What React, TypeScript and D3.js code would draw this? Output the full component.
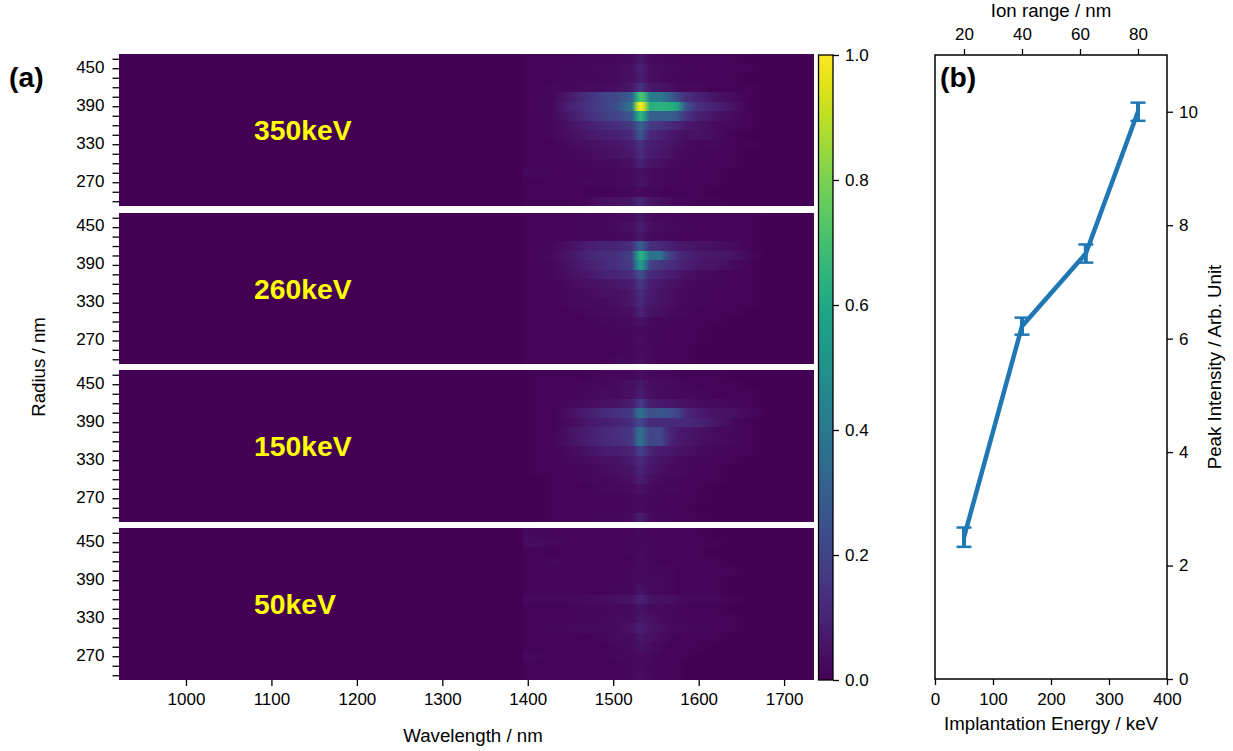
import React, { useRef, useEffect } from "react"
import * as d3 from "d3"

const FONT = "'Liberation Sans', Arial, sans-serif"

// wavelength of each spectrum column (nm), radius of each row (nm)
const wavelengths = [1395, 1410, 1430, 1450, 1470, 1490, 1505, 1522, 1528, 1532, 1536, 1543, 1555, 1565, 1575, 1585, 1600, 1620, 1640, 1660, 1680, 1700]
const radii = [465, 450, 435, 420, 405, 390, 375, 360, 345, 330, 315, 300, 285, 270, 255, 240]

// intensities in percent of the maximum, one line per radius
const map350 = [
  [1, 1, 1, 1, 2, 2, 2, 3, 5, 7, 5, 3, 2, 2, 2, 1, 1, 1, 1, 0, 0, 0],
  [1, 1, 1, 2, 2, 3, 3, 4, 7, 9, 7, 4, 3, 3, 2, 2, 1, 1, 1, 1, 0, 0],
  [1, 1, 1, 2, 2, 2, 3, 4, 6, 8, 6, 4, 3, 2, 2, 1, 1, 1, 1, 0, 0, 0],
  [1, 1, 2, 2, 3, 3, 4, 6, 11, 15, 11, 6, 5, 4, 3, 2, 2, 1, 1, 1, 0, 0],
  [1, 1, 2, 7, 14, 20, 22, 30, 62, 72, 68, 42, 40, 32, 22, 14, 9, 5, 3, 1, 0, 0],
  [1, 1, 3, 9, 15, 20, 24, 40, 88, 100, 92, 62, 64, 64, 58, 26, 13, 9, 5, 1, 0, 0],
  [1, 1, 2, 7, 13, 18, 20, 28, 55, 66, 58, 30, 30, 30, 26, 15, 9, 5, 3, 1, 0, 0],
  [1, 1, 2, 5, 8, 11, 13, 17, 26, 32, 26, 17, 15, 13, 10, 7, 5, 3, 2, 1, 0, 0],
  [1, 1, 2, 4, 6, 8, 9, 12, 21, 27, 21, 11, 9, 7, 5, 4, 5, 3, 1, 0, 0, 0],
  [1, 1, 1, 3, 4, 5, 6, 8, 12, 15, 12, 8, 7, 6, 4, 3, 2, 2, 1, 1, 0, 0],
  [1, 1, 1, 2, 3, 4, 5, 6, 10, 13, 10, 7, 6, 5, 3, 2, 2, 1, 1, 0, 0, 0],
  [1, 1, 1, 1, 2, 3, 3, 4, 7, 9, 7, 5, 4, 3, 2, 2, 1, 1, 1, 0, 0, 0],
  [2, 2, 1, 1, 1, 2, 2, 3, 4, 4, 4, 3, 2, 2, 2, 1, 1, 1, 0, 0, 0, 0],
  [1, 1, 1, 1, 2, 2, 2, 3, 4, 5, 4, 3, 2, 2, 1, 1, 1, 1, 0, 0, 0, 0],
  [1, 1, 1, 1, 1, 1, 1, 2, 2, 3, 2, 2, 1, 1, 1, 1, 1, 0, 0, 0, 0, 0],
  [1, 1, 1, 1, 2, 4, 5, 6, 9, 11, 9, 6, 4, 3, 2, 2, 1, 1, 0, 0, 0, 0],
]
const map260 = [
  [1, 1, 1, 1, 2, 2, 2, 3, 4, 6, 4, 3, 2, 2, 2, 1, 1, 1, 1, 1, 0, 0],
  [1, 1, 1, 1, 2, 2, 3, 4, 6, 8, 6, 4, 3, 3, 2, 2, 1, 1, 1, 1, 0, 0],
  [1, 1, 1, 1, 2, 2, 2, 3, 4, 6, 4, 3, 2, 2, 2, 1, 1, 1, 1, 1, 0, 0],
  [1, 1, 2, 4, 8, 10, 10, 13, 24, 30, 24, 13, 11, 9, 7, 6, 5, 4, 3, 1, 0, 0],
  [1, 1, 3, 6, 10, 13, 14, 20, 50, 64, 60, 36, 38, 20, 13, 10, 7, 6, 5, 2, 0, 0],
  [1, 1, 2, 5, 8, 12, 14, 18, 46, 56, 46, 20, 16, 14, 11, 8, 6, 5, 3, 1, 0, 0],
  [1, 1, 2, 4, 6, 9, 10, 13, 20, 24, 20, 12, 10, 8, 6, 4, 3, 2, 1, 1, 0, 0],
  [1, 1, 1, 3, 4, 5, 6, 8, 13, 16, 13, 8, 6, 5, 4, 3, 2, 2, 1, 1, 0, 0],
  [1, 1, 1, 2, 3, 4, 4, 6, 10, 13, 10, 7, 5, 4, 3, 2, 2, 1, 1, 1, 0, 0],
  [1, 1, 1, 2, 3, 3, 4, 6, 9, 12, 9, 6, 5, 4, 3, 2, 2, 1, 1, 1, 0, 0],
  [1, 1, 1, 1, 2, 3, 3, 4, 7, 10, 7, 5, 4, 3, 2, 2, 1, 1, 1, 0, 0, 0],
  [1, 1, 1, 1, 1, 2, 2, 3, 4, 5, 4, 3, 2, 2, 1, 1, 1, 1, 0, 0, 0, 0],
  [1, 1, 1, 1, 1, 1, 2, 2, 3, 3, 3, 2, 2, 1, 1, 1, 1, 0, 0, 0, 0, 0],
  [1, 1, 1, 1, 1, 1, 1, 2, 3, 4, 3, 2, 2, 1, 1, 1, 1, 0, 0, 0, 0, 0],
  [1, 1, 1, 1, 1, 1, 1, 2, 3, 3, 3, 2, 1, 1, 1, 1, 0, 0, 0, 0, 0, 0],
  [1, 1, 1, 1, 1, 1, 2, 2, 3, 4, 3, 2, 1, 1, 1, 1, 0, 0, 0, 0, 0, 0],
]
const map150 = [
  [0, 1, 1, 1, 1, 2, 2, 2, 3, 4, 3, 3, 2, 2, 1, 1, 1, 1, 0, 0, 0, 0],
  [0, 1, 1, 1, 2, 2, 3, 4, 5, 7, 5, 4, 3, 3, 2, 2, 1, 1, 1, 0, 0, 0],
  [0, 1, 1, 1, 2, 3, 3, 4, 6, 8, 6, 4, 3, 3, 2, 2, 2, 1, 1, 1, 0, 0],
  [0, 1, 1, 2, 3, 4, 5, 8, 14, 18, 14, 8, 6, 6, 5, 4, 3, 3, 2, 1, 0, 0],
  [0, 1, 1, 4, 8, 12, 14, 17, 32, 38, 32, 24, 26, 24, 20, 11, 7, 5, 4, 2, 0, 0],
  [0, 1, 1, 3, 6, 8, 10, 13, 19, 22, 17, 12, 12, 12, 11, 11, 10, 6, 2, 1, 0, 0],
  [0, 1, 1, 5, 8, 11, 13, 16, 32, 38, 30, 20, 22, 11, 7, 6, 4, 3, 2, 1, 0, 0],
  [0, 1, 1, 5, 8, 11, 13, 16, 32, 38, 30, 20, 22, 11, 7, 6, 4, 3, 2, 1, 0, 0],
  [0, 1, 1, 3, 5, 7, 8, 10, 15, 18, 15, 10, 7, 6, 5, 4, 3, 2, 1, 1, 0, 0],
  [0, 1, 1, 2, 3, 4, 5, 7, 10, 12, 10, 7, 5, 4, 3, 2, 2, 1, 1, 0, 0, 0],
  [0, 1, 1, 1, 2, 3, 4, 5, 8, 10, 8, 6, 4, 3, 3, 2, 1, 1, 0, 0, 0, 0],
  [0, 0, 1, 1, 2, 2, 3, 4, 6, 8, 6, 4, 3, 2, 2, 1, 1, 1, 0, 0, 0, 0],
  [0, 0, 1, 1, 1, 2, 2, 3, 4, 5, 4, 3, 2, 2, 2, 1, 1, 0, 0, 0, 0, 0],
  [0, 0, 1, 1, 1, 1, 1, 2, 3, 3, 3, 2, 2, 1, 1, 1, 1, 0, 0, 0, 0, 0],
  [0, 0, 1, 1, 1, 1, 1, 2, 2, 3, 2, 2, 1, 1, 1, 1, 0, 0, 0, 0, 0, 0],
  [0, 0, 1, 1, 1, 2, 2, 3, 6, 8, 6, 3, 2, 2, 1, 1, 1, 0, 0, 0, 0, 0],
]
const map50 = [
  [2, 2, 1, 1, 1, 1, 1, 1, 2, 2, 2, 1, 1, 1, 1, 1, 1, 0, 0, 0, 0, 0],
  [3, 3, 2, 1, 1, 1, 1, 2, 2, 2, 2, 2, 1, 1, 1, 1, 1, 1, 0, 0, 0, 0],
  [1, 1, 1, 1, 1, 1, 1, 2, 2, 3, 2, 2, 1, 1, 1, 1, 1, 0, 0, 0, 0, 0],
  [1, 1, 2, 1, 1, 1, 1, 1, 2, 3, 2, 2, 1, 1, 1, 1, 1, 1, 0, 0, 0, 0],
  [1, 1, 1, 1, 1, 1, 1, 2, 2, 3, 3, 2, 2, 2, 1, 1, 1, 1, 1, 0, 0, 0],
  [1, 1, 1, 1, 1, 1, 1, 2, 3, 3, 3, 3, 2, 2, 1, 1, 1, 1, 0, 0, 0, 0],
  [1, 1, 1, 1, 1, 1, 2, 2, 4, 5, 4, 3, 2, 2, 1, 1, 1, 1, 0, 0, 0, 0],
  [2, 2, 2, 2, 3, 3, 4, 5, 8, 9, 8, 5, 4, 4, 3, 2, 2, 2, 1, 0, 0, 0],
  [1, 1, 1, 1, 2, 2, 2, 3, 4, 5, 4, 3, 3, 2, 2, 1, 1, 1, 0, 0, 0, 0],
  [1, 1, 1, 1, 2, 2, 3, 3, 5, 6, 5, 4, 3, 2, 2, 1, 1, 1, 1, 0, 0, 0],
  [1, 1, 2, 2, 3, 3, 3, 5, 7, 8, 7, 5, 4, 3, 3, 2, 2, 1, 1, 0, 0, 0],
  [1, 1, 1, 1, 1, 2, 3, 3, 5, 6, 5, 4, 3, 2, 1, 1, 1, 1, 0, 0, 0, 0],
  [1, 1, 1, 1, 1, 1, 2, 3, 4, 5, 4, 3, 2, 1, 1, 1, 1, 0, 0, 0, 0, 0],
  [2, 2, 1, 1, 1, 1, 2, 2, 3, 3, 3, 2, 1, 1, 1, 1, 0, 0, 0, 0, 0, 0],
  [1, 1, 1, 1, 1, 1, 1, 2, 2, 3, 2, 2, 1, 1, 1, 0, 0, 0, 0, 0, 0, 0],
  [1, 1, 1, 1, 1, 1, 1, 2, 3, 4, 3, 2, 1, 1, 1, 0, 0, 0, 0, 0, 0, 0],
]

const panelLabels = ["350keV", "260keV", "150keV", "50keV"]
const panelMaps = [map350, map260, map150, map50]
const panelTops = [54, 213, 370, 528]
const panelBottoms = [206, 364, 522, 680]

const radiusTicks = d3.range(465, 239, -15)
const radiusLabelled = [450, 390, 330, 270]
const wavelengthTicks = [1000, 1100, 1200, 1300, 1400, 1500, 1600, 1700]
const colorbarTicks = [0, 0.2, 0.4, 0.6, 0.8, 1]

// panel (b)
const energies = [50, 150, 260, 350]
const peakIntensity = [2.5, 6.22, 7.5, 10.0]
const peakError = [0.17, 0.15, 0.16, 0.16]
const energyTicks = [0, 100, 200, 300, 400]
const intensityTicks = [0, 2, 4, 6, 8, 10]
const ionRangeTicks = [20, 40, 60, 80]

const BLUE = "#1f77b4"

const App = () => {
  const ref = useRef<SVGSVGElement>(null)

  const xWave = d3.scaleLinear().domain([921.6, 1735]).range([119, 814])
  const waveToOffset = (w: number) => ((w - 921.6) / (1735 - 921.6)) * 100 + "%"
  const cbar = d3.scaleLinear().domain([0, 1]).range([680, 55])
  const xEnergy = d3.scaleLinear().domain([0, 400]).range([935, 1167])
  const xIon = d3.scaleLinear().domain([10, 90]).range([935, 1167])
  const yPeak = d3.scaleLinear().domain([0, 11]).range([679, 55])

  const yScales = panelTops.map((t, i) =>
    d3.scaleLinear().domain([472.5, 232.5]).range([t, panelBottoms[i]])
  )

  useEffect(() => {
    const svg = d3.select(ref.current)
    svg.selectAll(".axis").remove()

    const style = (g: any) => {
      g.attr("font-family", FONT).attr("font-size", 17).attr("color", "#000")
      g.selectAll("line").attr("stroke-width", 1.3)
      g.selectAll("text").attr("fill", "#000")
    }

    yScales.forEach((y) => {
      const g = svg.append("g").attr("class", "axis").attr("transform", "translate(119,0)")
      g.call(
        d3.axisLeft(y).tickValues(radiusTicks).tickSize(6.5).tickPadding(8)
          .tickFormat((d: any) => (radiusLabelled.includes(d) ? String(d) : ""))
      )
      g.select(".domain").remove()
      style(g)
      g.selectAll("text").attr("dy", "0.22em")
    })

    const gx = svg.append("g").attr("class", "axis").attr("transform", "translate(0,680)")
    gx.call(d3.axisBottom(xWave).tickValues(wavelengthTicks).tickSize(6).tickPadding(7).tickFormat(d3.format("d") as any))
    gx.select(".domain").remove()
    style(gx)

    const gc = svg.append("g").attr("class", "axis").attr("transform", "translate(833,0)")
    gc.call(d3.axisRight(cbar).tickValues(colorbarTicks).tickSize(6).tickPadding(6).tickFormat(d3.format(".1f") as any))
    gc.select(".domain").remove()
    style(gc)

    const gb = svg.append("g").attr("class", "axis").attr("transform", "translate(0,679)")
    gb.call(d3.axisBottom(xEnergy).tickValues(energyTicks).tickSize(6).tickPadding(8).tickFormat(d3.format("d") as any))
    gb.select(".domain").remove()
    style(gb)

    const gt = svg.append("g").attr("class", "axis").attr("transform", "translate(0,55)")
    gt.call(d3.axisTop(xIon).tickValues(ionRangeTicks).tickSize(6).tickPadding(9).tickFormat(d3.format("d") as any))
    gt.select(".domain").remove()
    style(gt)

    const gr = svg.append("g").attr("class", "axis").attr("transform", "translate(1167,0)")
    gr.call(d3.axisRight(yPeak).tickValues(intensityTicks).tickSize(6).tickPadding(6).tickFormat(d3.format("d") as any))
    gr.select(".domain").remove()
    style(gr)
  }, [])

  const line = d3.line<number>()
    .x((d) => xEnergy(d))
    .y((_, i) => yPeak(peakIntensity[i]))

  const textProps = { fontFamily: FONT, fontSize: 18.7, fill: "#000", textAnchor: "middle" as const }

  return (
    <svg ref={ref} width={1233} height={751}
      style={{ position: "absolute", left: 0, top: 0, background: "#fff" }}>
      <defs>
        {panelMaps.map((m, p) =>
          m.map((row, r) => (
            <linearGradient key={p + "-" + r} id={"g" + p + "-" + r} x1="0" x2="1" y1="0" y2="0">
              <stop offset="0%" stopColor={d3.interpolateViridis(0)} />
              {/* flat background up to where the detector starts */}
              <stop offset={waveToOffset(wavelengths[0] - 1)} stopColor={d3.interpolateViridis(0)} />
              {row.map((v, c) => (
                <stop key={c} offset={waveToOffset(wavelengths[c])} stopColor={d3.interpolateViridis(v / 100)} />
              ))}
              <stop offset="100%" stopColor={d3.interpolateViridis(0)} />
            </linearGradient>
          ))
        )}
        <linearGradient id="cbar" x1="0" x2="0" y1="1" y2="0">
          {d3.range(0, 1.001, 0.05).map((t) => (
            <stop key={t} offset={t * 100 + "%"} stopColor={d3.interpolateViridis(t)} />
          ))}
        </linearGradient>
      </defs>

      {/* panel (a) */}
      {panelMaps.map((m, p) => (
        <g key={p}>
          {radii.map((rad, r) => {
            const y0 = Math.round(yScales[p](rad + 7.5))
            const y1 = Math.round(yScales[p](rad - 7.5))
            return (
              <rect key={rad} x={119} width={695} y={y0} height={y1 - y0}
                fill={`url(#g${p}-${r})`} />
            )
          })}
          <text x={254} y={panelTops[p] + 86} fontFamily={FONT} fontSize={28.3} fontWeight="bold" fill="#ffff00">
            {panelLabels[p]}
          </text>
        </g>
      ))}
      <rect x={818.5} y={55} width={14.5} height={625} fill="url(#cbar)" stroke="#000" strokeWidth={1.3} />

      <text x={9} y={87} fontFamily={FONT} fontSize={28.3} fontWeight="bold">(a)</text>
      <text {...textProps} x={473} y={742}>Wavelength / nm</text>
      <text {...textProps} transform="translate(45,367) rotate(-90)">Radius / nm</text>

      {/* panel (b) */}
      <rect x={935} y={55} width={232} height={624} fill="none" stroke="#000" strokeWidth={1.5} />
      <path d={line(energies) as string} fill="none" stroke={BLUE} strokeWidth={4.5} />
      {energies.map((e, i) => {
        const hi = yPeak(peakIntensity[i] + peakError[i])
        const lo = yPeak(peakIntensity[i] - peakError[i])
        const cx = xEnergy(e)
        return (
          <g key={e} stroke={BLUE}>
            <line x1={cx} x2={cx} y1={hi} y2={lo} strokeWidth={4} />
            <line x1={cx - 7.5} x2={cx + 7.5} y1={hi} y2={hi} strokeWidth={2.5} />
            <line x1={cx - 7.5} x2={cx + 7.5} y1={lo} y2={lo} strokeWidth={2.5} />
          </g>
        )
      })}
      <text x={940} y={87} fontFamily={FONT} fontSize={28.3} fontWeight="bold">(b)</text>
      <text {...textProps} x={1051} y={730}>Implantation Energy / keV</text>
      <text {...textProps} x={1051} y={17}>Ion range / nm</text>
      <text {...textProps} transform="translate(1221,367) rotate(-90)">Peak Intensity / Arb. Unit</text>
    </svg>
  )
}

export default App
